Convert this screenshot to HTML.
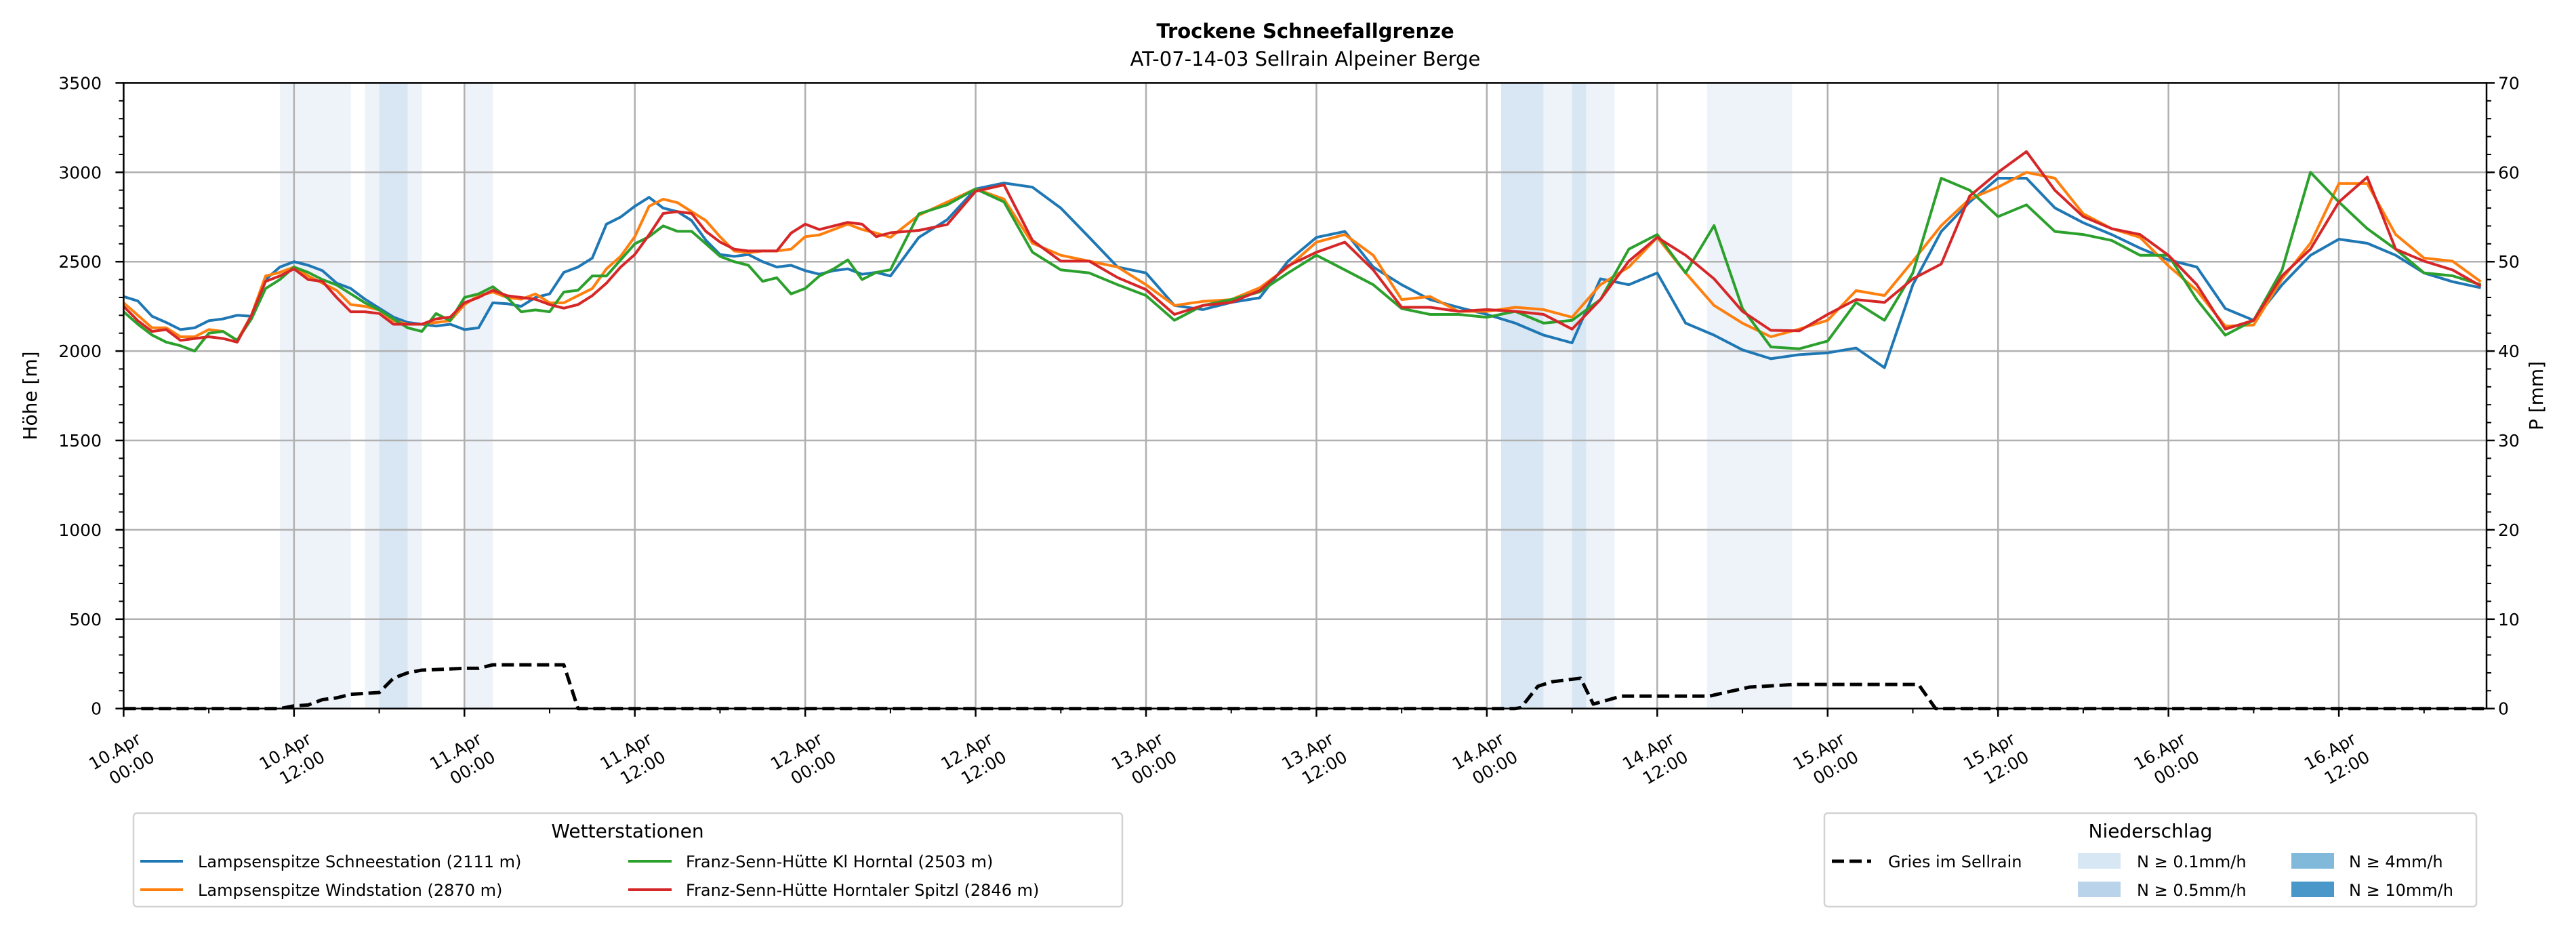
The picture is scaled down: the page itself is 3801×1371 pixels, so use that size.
<!DOCTYPE html>
<html><head><meta charset="utf-8">
<style>
html,body{margin:0;padding:0;background:#fff;}
svg{display:block;font-family:"DejaVu Sans","Liberation Sans",sans-serif;}
</style></head>
<body>
<svg id="chart" width="3801" height="1371" viewBox="0 0 3801 1371" xmlns="http://www.w3.org/2000/svg">
<rect width="3801" height="1371" fill="#fff"/>
<text x="1926" y="56" text-anchor="middle" font-size="29" font-weight="bold">Trockene Schneefallgrenze</text>
<text x="1926" y="97" text-anchor="middle" font-size="29">AT-07-14-03 Sellrain Alpeiner Berge</text>
<g id="bands"></g>
<g id="grid"></g>
<g id="series"></g>
<g id="axes"></g>
<text transform="translate(54,584) rotate(-90)" text-anchor="middle" font-size="28">Höhe [m]</text>
<text transform="translate(3752,584) rotate(-90)" text-anchor="middle" font-size="28">P [mm]</text>

<g>
<rect x="197" y="1200" width="1459" height="138" rx="5" fill="#fff" stroke="#d3d3d3" stroke-width="2.5"/>
<text x="926" y="1236" text-anchor="middle" font-size="28">Wetterstationen</text>
<g><line x1="207" y1="1271" x2="270" y2="1271" stroke="#1f77b4" stroke-width="4"/><text x="292" y="1280" font-size="24">Lampsenspitze Schneestation (2111 m)</text></g>
<g><line x1="207" y1="1313" x2="270" y2="1313" stroke="#ff7f0e" stroke-width="4"/><text x="292" y="1322" font-size="24">Lampsenspitze Windstation (2870 m)</text></g>
<g><line x1="927" y1="1271" x2="991" y2="1271" stroke="#2ca02c" stroke-width="4"/><text x="1012" y="1280" font-size="24">Franz-Senn-Hütte Kl Horntal (2503 m)</text></g>
<g><line x1="927" y1="1313" x2="991" y2="1313" stroke="#d62728" stroke-width="4"/><text x="1012" y="1322" font-size="24">Franz-Senn-Hütte Horntaler Spitzl (2846 m)</text></g>
</g>

<g>
<rect x="2692" y="1200" width="962" height="138" rx="5" fill="#fff" stroke="#d3d3d3" stroke-width="2.5"/>
<text x="3173" y="1236" text-anchor="middle" font-size="28">Niederschlag</text>
<g><line x1="2703" y1="1271" x2="2761" y2="1271" stroke="#000" stroke-width="5" stroke-dasharray="18,8"/><text x="2786" y="1280" font-size="24">Gries im Sellrain</text></g>
<g><rect x="3066" y="1259" width="63" height="23" fill="#d8e7f4"/><text x="3153" y="1280" font-size="24">N ≥ 0.1mm/h</text></g>
<g><rect x="3066" y="1301" width="63" height="23" fill="#b9d4ea"/><text x="3153" y="1322" font-size="24">N ≥ 0.5mm/h</text></g>
<g><rect x="3381" y="1259" width="63" height="23" fill="#80b9da"/><text x="3466" y="1280" font-size="24">N ≥ 4mm/h</text></g>
<g><rect x="3381" y="1301" width="63" height="23" fill="#4a97c9"/><text x="3466" y="1322" font-size="24">N ≥ 10mm/h</text></g>
</g>
</svg>
<script>
// ---- data ----
const hours = [0,1,2,3,4,5,6,7,8,9,10,11,12,13,14,15,16,17,18,19,20,21,22,23,24,25,26,27,28,29,30,31,32,33,34,35,36,37,38,39,40,41,42,43,44,45,46,47,48,49,50,51,52,53,
54,56,58,60,62,64,66,68,70,72,74,76,78,80,82,84,86,88,90,92,94,96,98,100,102,104,106,108,110,112,114,116,118,120,122,124,126,128,130,132,134,136,138,140,142,144,146,148,150,152,154,156,158,160,162,164,166];
const blue = [2305,2280,2195,2160,2120,2130,2170,2180,2200,2195,2400,2470,2500,2480,2450,2380,2350,2290,2240,2190,2160,2150,2140,2150,2120,2130,2270,2265,2250,2300,2320,2440,2470,2520,2710,2750,2810,2860,2800,2780,2730,2620,2540,2530,2540,2500,2470,2480,2450,2430,2450,2460,2430,2440,
2420,2636,2735,2907,2940,2917,2800,2636,2470,2437,2255,2232,2272,2298,2503,2636,2669,2470,2371,2288,2245,2205,2156,2089,2046,2404,2371,2437,2156,2089,2007,1957,1980,1990,2017,1907,2371,2669,2834,2967,2967,2801,2718,2652,2576,2510,2470,2238,2172,2371,2536,2626,2603,2536,2437,2388,2354];
const orange = [2270,2200,2130,2130,2080,2080,2120,2110,2060,2200,2420,2440,2470,2420,2380,2340,2260,2250,2230,2170,2150,2150,2160,2170,2260,2310,2330,2300,2290,2320,2270,2270,2310,2350,2460,2530,2640,2810,2850,2830,2780,2730,2640,2560,2550,2560,2560,2570,2640,2650,2680,2710,2680,2660,
2636,2760,2834,2907,2850,2603,2536,2503,2470,2371,2255,2278,2288,2354,2470,2609,2652,2536,2288,2305,2222,2222,2245,2232,2189,2371,2470,2636,2437,2255,2156,2080,2123,2172,2338,2311,2503,2702,2851,2917,3000,2967,2768,2685,2636,2477,2338,2139,2146,2404,2603,2937,2937,2652,2520,2503,2388];
const green = [2220,2150,2090,2050,2030,2000,2100,2110,2060,2180,2350,2400,2470,2440,2400,2370,2320,2270,2230,2180,2130,2110,2210,2170,2300,2320,2360,2300,2220,2230,2220,2330,2340,2420,2420,2510,2600,2640,2700,2670,2670,2600,2530,2500,2480,2390,2410,2320,2350,2420,2460,2510,2400,2440,
2455,2768,2818,2907,2834,2553,2454,2437,2371,2311,2172,2255,2288,2331,2437,2536,2454,2371,2238,2205,2205,2189,2222,2156,2172,2288,2570,2652,2437,2702,2238,2023,2013,2056,2272,2172,2437,2967,2900,2752,2818,2669,2652,2619,2536,2536,2288,2089,2172,2454,3000,2834,2685,2570,2437,2421,2371];
const red = [2250,2170,2110,2120,2060,2070,2080,2070,2050,2200,2390,2420,2460,2400,2390,2300,2220,2220,2210,2150,2150,2150,2180,2190,2270,2300,2340,2310,2300,2290,2260,2240,2260,2310,2380,2470,2540,2650,2770,2780,2770,2670,2610,2570,2560,2560,2560,2660,2710,2680,2700,2720,2710,2640,
2662,2675,2708,2894,2930,2619,2503,2503,2411,2344,2205,2255,2272,2338,2477,2553,2609,2454,2245,2245,2222,2232,2222,2205,2123,2288,2503,2636,2536,2404,2222,2116,2113,2205,2288,2272,2404,2487,2867,3000,3116,2900,2752,2685,2652,2536,2371,2123,2172,2421,2570,2834,2973,2570,2503,2454,2364];
const snowT = [0,11,12,13,14,15,16,18,19,20,21,24,25,26,31,32,98,98.4,99.6,100.6,102.6,103.5,105.5,111.7,112.5,114.5,117.7,126.4,127.6,166.4];
const snowV = [0,0,15,20,50,60,80,90,170,200,215,225,225,245,245,0,0,5,125,150,170,25,70,70,85,120,135,135,0,0];
const bandStart = [11,17,18,24,97,100,102,103,111.5];
const bandEnd   = [16,21,20,26,100,102,103,105,117.5];
const bandLevel = [1,1,2,1,2,1,2,1,1];
const yTicks = [0,500,1000,1500,2000,2500,3000,3500];
const y2Ticks = [0,10,20,30,40,50,60,70];
const xTickLabels = [["10.Apr","00:00"],["10.Apr","12:00"],["11.Apr","00:00"],["11.Apr","12:00"],["12.Apr","00:00"],["12.Apr","12:00"],["13.Apr","00:00"],["13.Apr","12:00"],["14.Apr","00:00"],["14.Apr","12:00"],["15.Apr","00:00"],["15.Apr","12:00"],["16.Apr","00:00"],["16.Apr","12:00"]];

// ---- geometry ----
const L=182.4, R=3669, T=122.4, B=1045.7, XMAX=166.4, YMAX=3500;
const X = t => L + (R-L)*t/XMAX;
const Y = v => B - (B-T)*v/YMAX;
const Y2 = v => B - (B-T)*v/70;
const NS="http://www.w3.org/2000/svg";
function mk(tag, attrs, parent){const e=document.createElementNS(NS,tag);for(const k in attrs)e.setAttribute(k,attrs[k]);parent.appendChild(e);return e;}

const gb=document.getElementById('bands');
bandStart.forEach((s,i)=>{
  const r=mk('rect',{x:X(s),y:T,width:X(bandEnd[i])-X(s),height:B-T,fill:bandLevel[i]==1?'#eef3fa':'#d8e7f3'},gb);
  
  
});

const gg=document.getElementById('grid');
yTicks.forEach(v=>{const l=mk('line',{x1:L,x2:R,y1:Y(v),y2:Y(v),stroke:'#b0b0b0','stroke-width':2.5},gg);
  
  });
xTickLabels.forEach((lb,i)=>{const l=mk('line',{x1:X(i*12),x2:X(i*12),y1:T,y2:B,stroke:'#b0b0b0','stroke-width':2.5},gg);
  
  });

const gs=document.getElementById('series');
function poly(xs,ys,color,name,extra){
  const pts=xs.map((t,i)=>X(t).toFixed(1)+','+Y(ys[i]).toFixed(1)).join(' ');
  const p=mk('polyline',Object.assign({points:pts,fill:'none',stroke:color,'stroke-width':4,'stroke-linejoin':'round'},extra||{}),gs);
  
  
}
poly(snowT,snowV,'#000','gries-snowline',{'stroke-width':5,'stroke-dasharray':'18,8'});
poly(hours,blue,'#1f77b4','line-lampsenspitze-schnee');
poly(hours,orange,'#ff7f0e','line-lampsenspitze-wind');
poly(hours,green,'#2ca02c','line-franz-senn-kl-horntal');
poly(hours,red,'#d62728','line-franz-senn-spitzl');

const ga=document.getElementById('axes');
mk('rect',{x:L,y:T,width:R-L,height:B-T,fill:'none',stroke:'#000','stroke-width':2.5},ga);
for(let v=0;v<=3500;v+=100){const major=v%500==0;mk('line',{x1:L,x2:L-(major?12:7),y1:Y(v),y2:Y(v),stroke:'#000','stroke-width':major?2.5:2},ga);}
for(let v=0;v<=70;v+=2){const major=v%10==0;mk('line',{x1:R,x2:R+(major?12:7),y1:Y2(v),y2:Y2(v),stroke:'#000','stroke-width':major?2.5:2},ga);}
for(let t=0;t<=XMAX;t+=6){const major=t%12==0;mk('line',{x1:X(t),x2:X(t),y1:B,y2:B+(major?12:7),stroke:'#000','stroke-width':major?2.5:2},ga);}
yTicks.forEach(v=>{const e=mk('text',{x:150,y:Y(v)+9,'text-anchor':'end','font-size':25},ga);e.textContent=v;
  
  });
y2Ticks.forEach(v=>{const e=mk('text',{x:3686,y:Y2(v)+9,'font-size':25},ga);e.textContent=v;
  
  });
xTickLabels.forEach((lb,i)=>{
  const x=X(i*12);
  const a=mk('text',{x:0,y:0,'text-anchor':'middle','dominant-baseline':'central','font-size':25,transform:`translate(${x-13},1109) rotate(-30)`},ga);a.textContent=lb[0];
  
  
  const b=mk('text',{x:0,y:0,'text-anchor':'middle','dominant-baseline':'central','font-size':25,transform:`translate(${x+12},1133) rotate(-30)`},ga);b.textContent=lb[1];
  
  
});
</script>
</body></html>
